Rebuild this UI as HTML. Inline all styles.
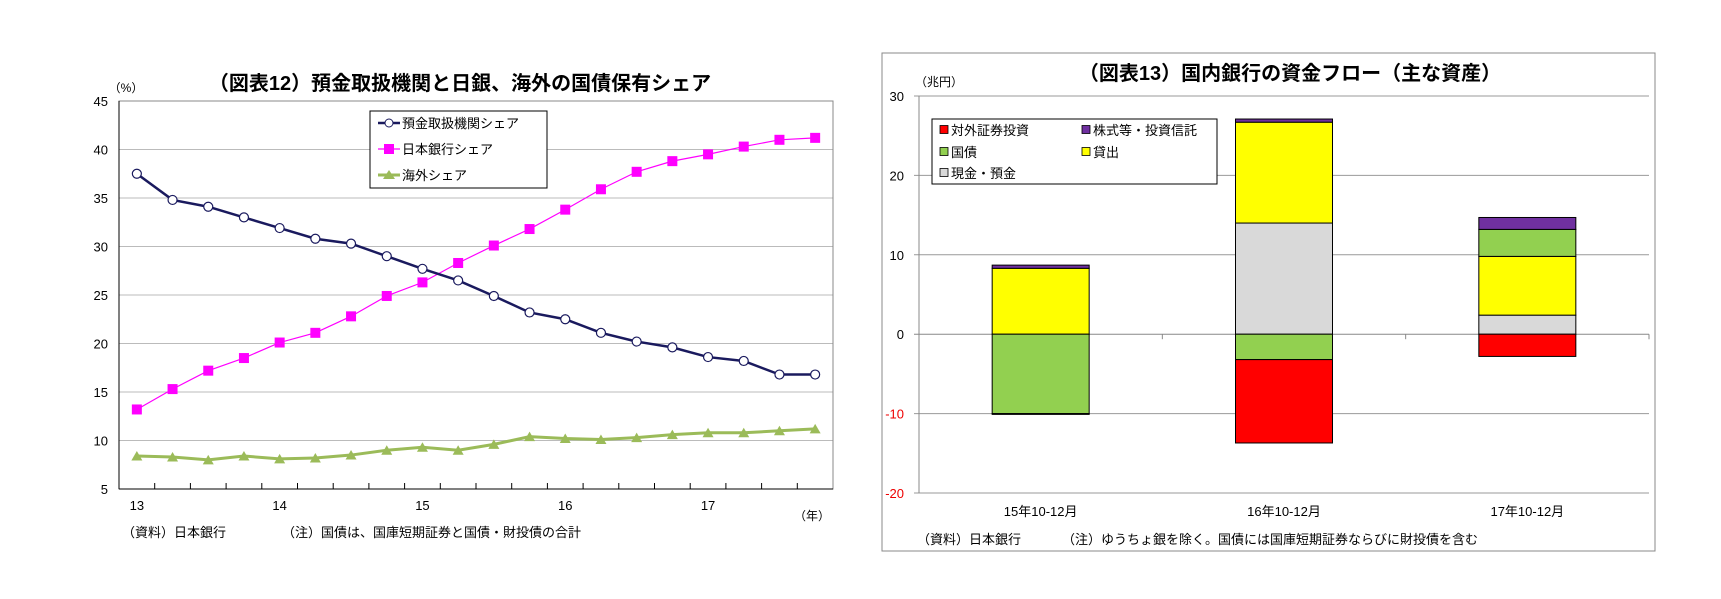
<!DOCTYPE html>
<html><head><meta charset="utf-8"><style>
body{margin:0;background:#fff;}
svg{display:block;font-family:"Liberation Sans","Noto Sans CJK JP",sans-serif;}
</style></head><body>
<svg id="c" width="1721" height="599" viewBox="0 0 1721 599">
<rect width="1721" height="599" fill="#fff"/>
<text x="460" y="90" font-size="20" font-weight="bold" text-anchor="middle">（図表12）預金取扱機関と日銀、海外の国債保有シェア</text>
<text x="126" y="92" font-size="12" text-anchor="middle">（%）</text>
<text x="812" y="520" font-size="12" text-anchor="middle">（年）</text>
<text x="122" y="537" font-size="13">（資料）日本銀行</text>
<text x="282" y="537" font-size="13">（注）国債は、国庫短期証券と国債・財投債の合計</text>
<g id="left"></g>
<rect x="882" y="53" width="773" height="498" fill="none" stroke="#888"/>
<text x="1290" y="80" font-size="20" font-weight="bold" text-anchor="middle">（図表13）国内銀行の資金フロー（主な資産）</text>
<text x="915" y="86" font-size="12">（兆円）</text>
<text x="917" y="544" font-size="13">（資料）日本銀行</text>
<text x="1062" y="544" font-size="13">（注）ゆうちょ銀を除く。国債には国庫短期証券ならびに財投債を含む</text>
<g id="right"></g>
</svg>
<script>
var quarters=['13Q1','13Q2','13Q3','13Q4','14Q1','14Q2','14Q3','14Q4','15Q1','15Q2','15Q3','15Q4','16Q1','16Q2','16Q3','16Q4','17Q1','17Q2','17Q3','17Q4'];
var depositShare=[37.5,34.8,34.1,33.0,31.9,30.8,30.3,29.0,27.7,26.5,24.9,23.2,22.5,21.1,20.2,19.6,18.6,18.2,16.8,16.8];
var bojShare=[13.2,15.3,17.2,18.5,20.1,21.1,22.8,24.9,26.3,28.3,30.1,31.8,33.8,35.9,37.7,38.8,39.5,40.3,41.0,41.2];
var foreignShare=[8.4,8.3,8.0,8.4,8.1,8.2,8.5,9.0,9.3,9.0,9.6,10.4,10.2,10.1,10.3,10.6,10.8,10.8,11.0,11.2];
var yTicksL=[5,10,15,20,25,30,35,40,45];
var yearLabels=['13','14','15','16','17'];

var periods=['15年10-12月','16年10-12月','17年10-12月'];
var foreignSec=[-0.1,-10.5,-2.8];
var jgb=[-10.0,-3.2,3.4];
var cashDep=[0,14.0,2.4];
var loans=[8.3,12.7,7.4];
var equities=[0.4,0.4,1.5];
var yTicksR=[-20,-10,0,10,20,30];

var NS='http://www.w3.org/2000/svg';
function mk(p,t,a){var e=document.createElementNS(NS,t);for(var k in a)e.setAttribute(k,a[k]);p.appendChild(e);return e;}

// Left chart
var L=document.getElementById('left');
var lx0=119,lx1=833,ly0=101,ly1=489;
var cw=(lx1-lx0)/quarters.length;
function xL(i){return lx0+cw*(i+0.5);}
function yL(v){return ly1-(v-5)/40*(ly1-ly0);}
yTicksL.forEach(function(t){
  if(t>5){var g=mk(L,'line',{x1:lx0,x2:lx1,y1:yL(t),y2:yL(t),stroke:'#bbb'});
  
  }
  var tx=mk(L,'text',{x:108,y:yL(t)+5,'font-size':13,'text-anchor':'end'});tx.textContent=t;
  
  
});
var fr=mk(L,'rect',{x:lx0,y:ly0,width:lx1-lx0,height:ly1-ly0,fill:'none',stroke:'#888'});


mk(L,'line',{x1:lx0,x2:lx0,y1:ly0,y2:ly1,stroke:'#000'});
mk(L,'line',{x1:lx0,x2:lx1,y1:ly1,y2:ly1,stroke:'#000'});
for(var i=1;i<quarters.length;i++){mk(L,'line',{x1:lx0+cw*i,x2:lx0+cw*i,y1:ly1,y2:ly1-6,stroke:'#000'});}
yearLabels.forEach(function(y,j){var t=mk(L,'text',{x:xL(j*4),y:510,'font-size':13,'text-anchor':'middle'});t.textContent=y;

});
function series(arr,color,w,name,marker){
  var pts=arr.map(function(v,i){return xL(i)+','+yL(v);}).join(' ');
  var pl=mk(L,'polyline',{points:pts,fill:'none',stroke:color,'stroke-width':w});
  
  
  arr.forEach(function(v,i){marker(xL(i),yL(v));});
}
function circ(x,y){var m=mk(L,'circle',{cx:x,cy:y,r:4.5,fill:'#fff',stroke:'#1a1a5e','stroke-width':1.2});

}
function sq(x,y){var m=mk(L,'rect',{x:x-5,y:y-5,width:10,height:10,fill:'#f0f'});

}
function tri(x,y){var m=mk(L,'polygon',{points:(x-5.5)+','+(y+4.5)+' '+(x+5.5)+','+(y+4.5)+' '+x+','+(y-5),fill:'#9bbb59'});

}
series(foreignShare,'#9bbb59',3,'foreign-share',tri);
series(bojShare,'#f0f',1.2,'boj-share',sq);
series(depositShare,'#1a1a5e',2.5,'deposit-share',circ);
// legend
var lg=mk(L,'g',{});


mk(lg,'rect',{x:370,y:111,width:177,height:77,fill:'#fff',stroke:'#000'});
mk(lg,'line',{x1:378,x2:400,y1:123,y2:123,stroke:'#1a1a5e','stroke-width':2.5});
mk(lg,'circle',{cx:389,cy:123,r:4,fill:'#fff',stroke:'#1a1a5e'});
mk(lg,'line',{x1:378,x2:400,y1:149,y2:149,stroke:'#f0f','stroke-width':1.2});
mk(lg,'rect',{x:384,y:144,width:10,height:10,fill:'#f0f'});
mk(lg,'line',{x1:378,x2:400,y1:175,y2:175,stroke:'#9bbb59','stroke-width':3});
mk(lg,'polygon',{points:'383,179 395,179 389,170',fill:'#9bbb59'});
[['預金取扱機関シェア',123],['日本銀行シェア',149],['海外シェア',175]].forEach(function(e){var t=mk(lg,'text',{x:402,y:e[1]+5,'font-size':13});t.textContent=e[0];});

// Right chart
var R=document.getElementById('right');
var rx0=919,rx1=1649,ry0=96,ry1=493;
function yR(v){return ry1-(v+20)/50*(ry1-ry0);}
var bw=(rx1-rx0)/periods.length;
function xR(i){return rx0+bw*(i+0.5);}
yTicksR.forEach(function(t){
  var g=mk(R,'line',{x1:rx0-5,x2:rx1,y1:yR(t),y2:yR(t),stroke:t==0?'#888':'#999'});
  
  
  var tx=mk(R,'text',{x:904,y:yR(t)+5,'font-size':13,'text-anchor':'end',fill:t<0?'#e00':'#000'});tx.textContent=t;
  
  
});
mk(R,'line',{x1:rx0,x2:rx0,y1:ry0,y2:ry1,stroke:'#888'});
for(var k=1;k<=periods.length;k++){mk(R,'line',{x1:rx0+bw*k,x2:rx0+bw*k,y1:yR(0),y2:yR(0)+5,stroke:'#888'});}
var S={fs:[foreignSec,'#ff0000','foreign-securities'],jg:[jgb,'#92d050','jgb'],cd:[cashDep,'#d9d9d9','cash-deposits'],ln:[loans,'#ffff00','loans'],eq:[equities,'#7030a0','equities']};
var posOrder=['cd','ln','jg','eq','fs'];
var negOrder=['jg','fs','cd','ln','eq'];
periods.forEach(function(p,i){
  var pos=0,neg=0,w=97;
  function draw(s,a,b){
    var r=mk(R,'rect',{x:xR(i)-w/2,y:Math.min(yR(a),yR(b)),width:w,height:Math.abs(yR(b)-yR(a)),fill:s[1],stroke:'#000','stroke-width':1});
    
    
  }
  posOrder.forEach(function(key){var s=S[key],v=s[0][i];if(v>0){draw(s,pos,pos+v);pos+=v;}});
  negOrder.forEach(function(key){var s=S[key],v=s[0][i];if(v<0){draw(s,neg,neg+v);neg+=v;}});
  var t=mk(R,'text',{x:xR(i),y:516,'font-size':13,'text-anchor':'middle'});t.textContent=p;
  
  
});
var lg2=mk(R,'g',{});


mk(lg2,'rect',{x:932,y:119,width:285,height:65,fill:'#fff',stroke:'#000'});
[['対外証券投資','#ff0000',940,130],['株式等・投資信託','#7030a0',1082,130],['国債','#92d050',940,152],['貸出','#ffff00',1082,152],['現金・預金','#d9d9d9',940,173]].forEach(function(e){
  mk(lg2,'rect',{x:e[2],y:e[3]-4.5,width:8,height:8,fill:e[1],stroke:'#000','stroke-width':0.8});
  var t=mk(lg2,'text',{x:e[2]+11,y:e[3]+5,'font-size':13});t.textContent=e[0];
});
</script>
</body></html>
